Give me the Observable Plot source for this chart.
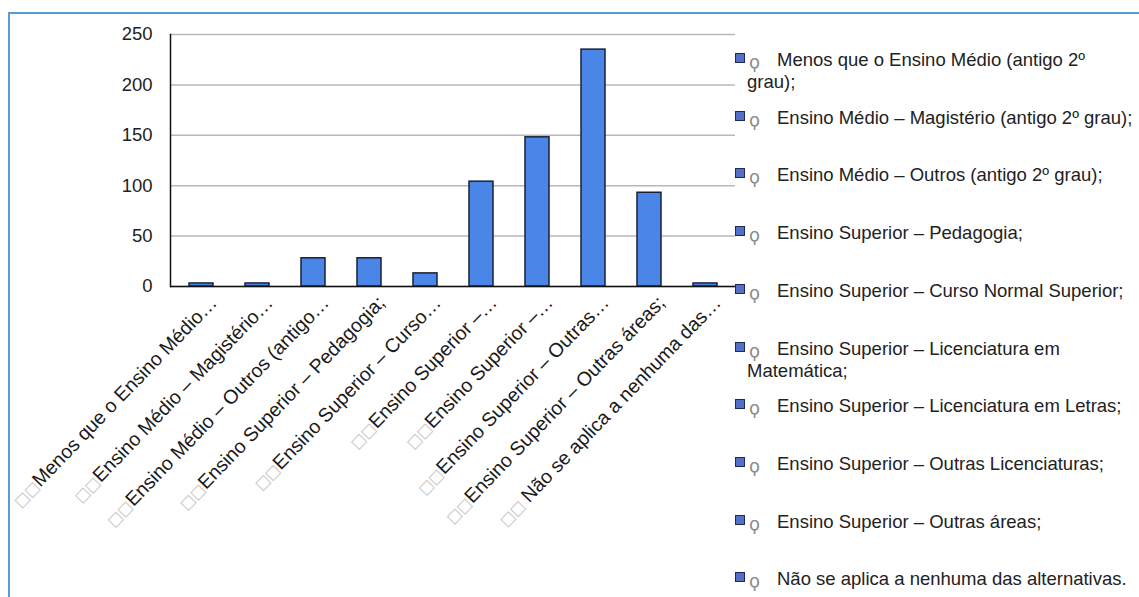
<!DOCTYPE html>
<html>
<head>
<meta charset="utf-8">
<script src="https://cdn.jsdelivr.net/npm/d3@7"></script>
<script src="https://cdn.jsdelivr.net/npm/@observablehq/plot@0.6"></script>
<style>
  html, body { margin: 0; padding: 0; background: #fff; }
  body { width: 1139px; height: 597px; position: relative; overflow: hidden;
         font-family: "Liberation Sans", Arial, sans-serif; }
  #frame { position: absolute; left: 8px; top: 12px; width: 1140px; height: 600px;
           border-top: 2px solid #5b9bd5; border-left: 2px solid #5b9bd5; box-sizing: border-box; }
  #chart { position: absolute; left: 0; top: 0; }
  .leg-marker { position: absolute; width: 8px; height: 8px; background: #5470c6; border: 1px solid #1f2a55; }
  .leg-sym { position: absolute; font-family: "DejaVu Sans", sans-serif; font-size: 18px; color: #8a8a8a; line-height: 14px; }
  .leg-text { position: absolute; white-space: nowrap;
              font-size: 18.5px; line-height: 18px; color: #222; }
</style>
</head>
<body>
<div id="frame"></div>
<div id="chart"></div>
<div id="legend"></div>
<script>
// ---- data ----
const categories = [
  "Menos que o Ensino Médio (antigo 2º grau);",
  "Ensino Médio – Magistério (antigo 2º grau);",
  "Ensino Médio – Outros (antigo 2º grau);",
  "Ensino Superior – Pedagogia;",
  "Ensino Superior – Curso Normal Superior;",
  "Ensino Superior – Licenciatura em Matemática;",
  "Ensino Superior – Licenciatura em Letras;",
  "Ensino Superior – Outras Licenciaturas;",
  "Ensino Superior – Outras áreas;",
  "Não se aplica a nenhuma das alternativas."
];
const values = [3, 3, 28, 28, 13, 104, 148, 235, 93, 3];
const tickLabels = [
  "□□Menos que o Ensino Médio…",
  "□□Ensino Médio – Magistério…",
  "□□Ensino Médio – Outros (antigo…",
  "□□Ensino Superior – Pedagogia;",
  "□□Ensino Superior – Curso…",
  "□□Ensino Superior –…",
  "□□Ensino Superior –…",
  "□□Ensino Superior – Outras…",
  "□□Ensino Superior – Outras áreas;",
  "□□ Não se aplica a nenhuma das…"
];
const legendLabels = [
  "Menos que o Ensino Médio (antigo 2º\ngrau);",
  "Ensino Médio – Magistério (antigo 2º grau);",
  "Ensino Médio – Outros (antigo 2º grau);",
  "Ensino Superior – Pedagogia;",
  "Ensino Superior – Curso Normal Superior;",
  "Ensino Superior – Licenciatura em\nMatemática;",
  "Ensino Superior – Licenciatura em Letras;",
  "Ensino Superior – Outras Licenciaturas;",
  "Ensino Superior – Outras áreas;",
  "Não se aplica a nenhuma das alternativas."
];
const yTicks = [0, 50, 100, 150, 200, 250];

const data = categories.map((c, i) => ({cat: c, value: values[i]}));

const chart = Plot.plot({
  width: 1139,
  height: 597,
  marginLeft: 170,
  marginRight: 404,
  marginTop: 34,
  marginBottom: 311,
  style: {fontFamily: '"Liberation Sans", Arial, sans-serif', fontSize: "18.5px", color: "#222", background: "transparent"},
  x: {domain: categories, paddingInner: 0.58, paddingOuter: 0.29, label: null},
  y: {domain: [0, 250], label: null},
  marks: [
    Plot.gridY(yTicks, {stroke: "#b8b8b8", strokeOpacity: 1, strokeWidth: 1.5}),
    Plot.barY(data, {x: "cat", y: "value", fill: "#4a86e8", stroke: "#1a1f36", strokeWidth: 1.5}),
    Plot.ruleY([0], {stroke: "#111", strokeWidth: 1.5}),
    Plot.frame({anchor: "left", stroke: "#111", strokeWidth: 1.5}),
    Plot.axisY(yTicks, {tickSize: 0, tickPadding: 18, label: null, fill: "#222"}),
    Plot.axisX({
      tickRotate: -46, tickSize: 0, tickPadding: 0, dx: 12, dy: 13,
      label: null, fill: "#1a1a1a", fontSize: 19.5,
      tickFormat: d => tickLabels[categories.indexOf(d)]
    })
  ]
});
document.getElementById("chart").appendChild(chart);

// style the missing-glyph boxes of the tick labels in light gray
chart.querySelectorAll('g[aria-label="x-axis tick label"] text').forEach(t => {
  const s = t.textContent;
  const m = s.match(/^□+\s?/);
  if (!m) return;
  t.textContent = "";
  const a = document.createElementNS("http://www.w3.org/2000/svg", "tspan");
  a.setAttribute("style", "font-family:'DejaVu Sans';font-size:15px;fill:#c4c4c4");
  a.textContent = m[0];
  const b = document.createElementNS("http://www.w3.org/2000/svg", "tspan");
  b.textContent = s.slice(m[0].length);
  t.appendChild(a); t.appendChild(b);
});

// legend on the right
const legend = document.getElementById("legend");
legendLabels.forEach((lab, i) => {
  const base = 66 + i * 57.7;
  const mk = document.createElement("div");
  mk.className = "leg-marker";
  mk.style.left = "735px";
  mk.style.top = (base - 13) + "px";
  legend.appendChild(mk);
  const sy = document.createElement("div");
  sy.className = "leg-sym";
  sy.style.left = "749px";
  sy.style.top = (base - 11) + "px";
  sy.textContent = "ϙ";
  legend.appendChild(sy);
  lab.split("\n").forEach((line, j) => {
    const tx = document.createElement("div");
    tx.className = "leg-text";
    tx.style.left = (j === 0 ? 777 : 747) + "px";
    tx.style.top = (base - 15 + j * 22) + "px";
    tx.textContent = line;
    legend.appendChild(tx);
  });
});
</script>
</body>
</html>
